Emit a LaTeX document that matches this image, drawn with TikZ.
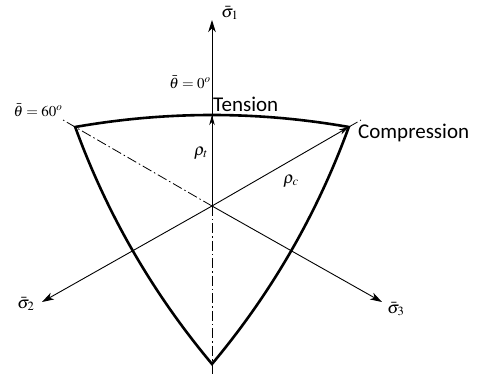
\documentclass[tikz,border=0pt]{standalone}
\usepackage{mathptmx}
\usepackage{fontspec}
\newfontfamily\carlito{Carlito}
\usetikzlibrary{calc,arrows.meta}
\begin{document}
\begin{tikzpicture}[x=1pt,y=-1pt,
  axis/.style={line width=0.9pt,-{Stealth[length=12pt,width=7.5pt,inset=3.5pt]}},
  radius/.style={line width=0.9pt,-{Stealth[length=10pt,width=5.5pt,inset=3pt]}},
  bound/.style={line width=2.6pt,line join=miter},
  cen/.style={line width=0.8pt,dash pattern=on 10pt off 3pt on 1.5pt off 3pt},
  lab/.style={inner sep=0pt,font=\fontsize{15}{18}\selectfont},
  slab/.style={inner sep=0pt,font=\fontsize{17}{20}\selectfont},
  txt/.style={inner sep=0pt,font=\carlito\fontsize{21}{24}\selectfont}]
\useasboundingbox (0,0) rectangle (477,374);
% key points
\coordinate (O) at (212,206);
\coordinate (L) at (75.2,127);
\coordinate (R) at (348.8,127);
\coordinate (B) at (212,364);
\coordinate (QT) at (212,103);
\coordinate (QL) at (122.8,257.5);
\coordinate (QR) at (301.2,257.5);
\coordinate (T) at (212,115);
\coordinate (S1) at (212,20);
\coordinate (S2) at (42,302);
\coordinate (S3) at (382,302);
\coordinate (EL) at (63,120);
\coordinate (ER) at (361,120);
\coordinate (EB) at (212,374);
% centre lines
\draw[cen] (O) -- (EL);
\draw[cen] (R) -- (ER);
\draw[cen] (O) -- (EB);
% boundary
\draw[bound] (L) .. controls ($(L)!2/3!(QT)$) and ($(R)!2/3!(QT)$) .. (R)
  .. controls ($(R)!2/3!(QR)$) and ($(B)!2/3!(QR)$) .. (B)
  .. controls ($(B)!2/3!(QL)$) and ($(L)!2/3!(QL)$) .. (L) -- cycle;
% axes
\draw[axis] (O) -- (S1);
\draw[axis] (O) -- (S2);
\draw[axis] (O) -- (S3);
\draw[radius] (O) -- (T);
\draw[radius] (O) -- (R);
% labels
\node[slab] (l1) at (230,13) {$\bar{\sigma}_1$};
\node[slab] (l2) at (26,304) {$\bar{\sigma}_2$};
\node[slab] (l3) at (396,309) {$\bar{\sigma}_3$};
\node[lab] (th0) at (190,82) {$\bar{\theta}=0^{o}$};
\node[lab] (th60) at (38,110) {$\bar{\theta}=60^{o}$};
\node[slab] (rt) at (201,153) {$\rho_t$};
\node[slab] (rc) at (291,181) {$\rho_c$};
\node[txt,anchor=base west] (ten) at (213,111.5) {Tension};
\node[txt,anchor=base west] (com) at (358,138.5) {Compression};
\end{tikzpicture}
\end{document}
